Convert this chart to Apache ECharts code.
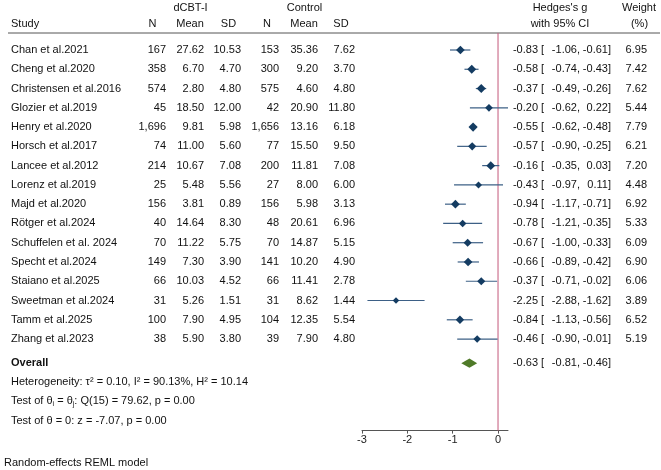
<!DOCTYPE html>
<html>
<head>
<meta charset="utf-8">
<script src="https://cdn.jsdelivr.net/npm/echarts@6/dist/echarts.min.js"></script>
<style>
  html, body { margin: 0; padding: 0; background: #fff; }
  #chart { width: 661px; height: 470px; }
</style>
</head>
<body>
<div id="chart"></div>
<script>
// study level data
const studies = ['Chan et al.2021', 'Cheng et al.2020', 'Christensen et al.2016', 'Glozier et al.2019',
  'Henry et al.2020', 'Horsch et al.2017', 'Lancee et al.2012', 'Lorenz et al.2019', 'Majd et al.2020',
  'Rötger et al.2024', 'Schuffelen et al. 2024', 'Specht et al.2024', 'Staiano et al.2025',
  'Sweetman et al.2024', 'Tamm et al.2025', 'Zhang et al.2023'];
const n1 = [167, 358, 574, 45, 1696, 74, 214, 25, 156, 40, 70, 149, 66, 31, 100, 38];
const mean1 = [27.62, 6.70, 2.80, 18.50, 9.81, 11.00, 10.67, 5.48, 3.81, 14.64, 11.22, 7.30, 10.03, 5.26, 7.90, 5.90];
const sd1 = [10.53, 4.70, 4.80, 12.00, 5.98, 5.60, 7.08, 5.56, 0.89, 8.30, 5.75, 3.90, 4.52, 1.51, 4.95, 3.80];
const n2 = [153, 300, 575, 42, 1656, 77, 200, 27, 156, 48, 70, 141, 66, 31, 104, 39];
const mean2 = [35.36, 9.20, 4.60, 20.90, 13.16, 15.50, 11.81, 8.00, 5.98, 20.61, 14.87, 10.20, 11.41, 8.62, 12.35, 7.90];
const sd2 = [7.62, 3.70, 4.80, 11.80, 6.18, 9.50, 7.08, 6.00, 3.13, 6.96, 5.15, 4.90, 2.78, 1.44, 5.54, 4.80];
const g = [-0.83, -0.58, -0.37, -0.20, -0.55, -0.57, -0.16, -0.43, -0.94, -0.78, -0.67, -0.66, -0.37, -2.25, -0.84, -0.46];
const ciLow = [-1.06, -0.74, -0.49, -0.62, -0.62, -0.90, -0.35, -0.97, -1.17, -1.21, -1.00, -0.89, -0.71, -2.88, -1.13, -0.90];
const ciHigh = [-0.61, -0.43, -0.26, 0.22, -0.48, -0.25, 0.03, 0.11, -0.71, -0.35, -0.33, -0.42, -0.02, -1.62, -0.56, -0.01];
const weight = [6.95, 7.42, 7.62, 5.44, 7.79, 6.21, 7.20, 4.48, 6.92, 5.33, 6.09, 6.90, 6.06, 3.89, 6.52, 5.19];

// overall (random effects) estimate
const overallG = [-0.63];
const overallLow = [-0.81];
const overallHigh = [-0.46];
const overallRow = 16.25;

const xTicks = [-3, -2, -1, 0];

const FONT = '"Liberation Sans", Arial, sans-serif';
const TXT = '#111';
const NAVY = '#143c62';

function txt(x, y, text, align, bold) {
  return {
    type: 'text', x: x, y: y, silent: true,
    style: {
      text: text, fill: TXT, fontSize: 11, fontFamily: FONT, fontWeight: bold ? 'bold' : 'normal',
      align: align || 'left', textAlign: align || 'left',
      verticalAlign: 'middle', textVerticalAlign: 'middle'
    }
  };
}

function ciText(y, est, lo, hi) {
  return [
    txt(538, y, est.toFixed(2), 'right'),
    txt(541, y, '[', 'left'),
    txt(580, y, lo.toFixed(2) + ',', 'right'),
    txt(611, y, hi.toFixed(2) + ']', 'right')
  ];
}

const rows = studies.map((s, i) => [0, i]);

const chart = echarts.init(document.getElementById('chart'));
chart.setOption({
  animation: false,
  backgroundColor: '#fff',
  grid: { left: 362, right: 153, top: 30.73, bottom: 39.4 },
  xAxis: {
    type: 'value', min: -3, max: 0.22,
    axisLine: { show: true, onZero: false, lineStyle: { color: '#555', width: 1 } },
    axisTick: { show: true, length: 3, customValues: xTicks, lineStyle: { color: '#555' } },
    axisLabel: { customValues: xTicks, color: '#222', fontSize: 11, fontFamily: FONT, margin: 4 },
    splitLine: { show: false }
  },
  yAxis: { type: 'value', show: false, inverse: true, min: -1, max: 19.75 },
  graphic: [
    txt(190.5, 8, 'dCBT-I', 'center'),
    txt(304.5, 8, 'Control', 'center'),
    txt(560, 8, "Hedges's g", 'center'),
    txt(639, 8, 'Weight', 'center'),
    txt(11, 24, 'Study', 'left'),
    txt(152.5, 24, 'N', 'center'),
    txt(190, 24, 'Mean', 'center'),
    txt(228.5, 24, 'SD', 'center'),
    txt(267, 24, 'N', 'center'),
    txt(304, 24, 'Mean', 'center'),
    txt(341, 24, 'SD', 'center'),
    txt(560, 24, 'with 95% CI', 'center'),
    txt(639.5, 24, '(%)', 'center'),
    {
      type: 'line', silent: true,
      shape: { x1: 8, y1: 33, x2: 660, y2: 33 },
      style: { stroke: '#555', lineWidth: 1 }
    },
    txt(11, 382, 'Heterogeneity: τ² = 0.10, I² = 90.13%, H² = 10.14', 'left'),
    {
      type: 'text', x: 11, y: 401, silent: true,
      style: {
        text: 'Test of θ{sub|i} = θ{sub|j}: Q(15) = 79.62, p = 0.00',
        fill: TXT, fontSize: 11, fontFamily: FONT, lineHeight: 13,
        verticalAlign: 'middle', textVerticalAlign: 'middle',
        rich: { sub: { fontSize: 7, fontFamily: FONT, fill: TXT, verticalAlign: 'bottom', lineHeight: 7 } }
      }
    },
    txt(11, 421, 'Test of θ = 0: z = -7.07, p = 0.00', 'left'),
    txt(4, 463, 'Random-effects REML model', 'left')
  ],
  series: [
    {
      // table text for each study row
      type: 'custom', clip: false, silent: true, data: rows,
      renderItem: function (params, api) {
        const i = api.value(1);
        const y = api.coord([0, i])[1];
        const kids = [
          txt(11, y, studies[i], 'left'),
          txt(166, y, n1[i].toLocaleString('en-US'), 'right'),
          txt(204, y, mean1[i].toFixed(2), 'right'),
          txt(241, y, sd1[i].toFixed(2), 'right'),
          txt(279, y, n2[i].toLocaleString('en-US'), 'right'),
          txt(318, y, mean2[i].toFixed(2), 'right'),
          txt(355, y, sd2[i].toFixed(2), 'right'),
          txt(647, y, weight[i].toFixed(2), 'right')
        ].concat(ciText(y, g[i], ciLow[i], ciHigh[i]));
        return { type: 'group', children: kids };
      }
    },
    {
      // zero reference line
      type: 'custom', clip: false, silent: true, data: [[0, -0.88, 19.75]],
      renderItem: function (params, api) {
        const a = api.coord([api.value(0), api.value(1)]);
        const b = api.coord([api.value(0), api.value(2)]);
        return {
          type: 'line', shape: { x1: a[0], y1: a[1], x2: b[0], y2: b[1] },
          style: { stroke: '#c4587a', lineWidth: 1 }
        };
      }
    },
    {
      // confidence intervals
      type: 'custom', silent: true,
      data: studies.map((s, i) => [ciLow[i], ciHigh[i], i]),
      renderItem: function (params, api) {
        const a = api.coord([api.value(0), api.value(2)]);
        const b = api.coord([api.value(1), api.value(2)]);
        return {
          type: 'line', shape: { x1: a[0], y1: a[1], x2: b[0], y2: b[1] },
          style: { stroke: '#3d6086', lineWidth: 1.2 }
        };
      }
    },
    {
      type: 'scatter', silent: true, symbol: 'diamond',
      data: studies.map((s, i) => [g[i], i, weight[i]]),
      symbolSize: function (v) { return Math.sqrt(v[2]) * 3.3; },
      itemStyle: { color: NAVY, opacity: 1 }
    },
    {
      // overall diamond and its text
      type: 'custom', clip: false, silent: true,
      data: overallG.map((v, i) => [v, overallLow[i], overallHigh[i], overallRow]),
      renderItem: function (params, api) {
        const row = api.value(3);
        const c = api.coord([api.value(0), row]);
        const l = api.coord([api.value(1), row]);
        const r = api.coord([api.value(2), row]);
        const h = 4.6;
        return {
          type: 'group',
          children: [
            {
              type: 'polygon',
              shape: { points: [[l[0], c[1]], [c[0], c[1] - h], [r[0], c[1]], [c[0], c[1] + h]] },
              style: { fill: '#4f7a28' }
            },
            txt(11, c[1], 'Overall', 'left', true)
          ].concat(ciText(c[1], api.value(0), api.value(1), api.value(2)))
        };
      }
    }
  ]
});
</script>
</body>
</html>
